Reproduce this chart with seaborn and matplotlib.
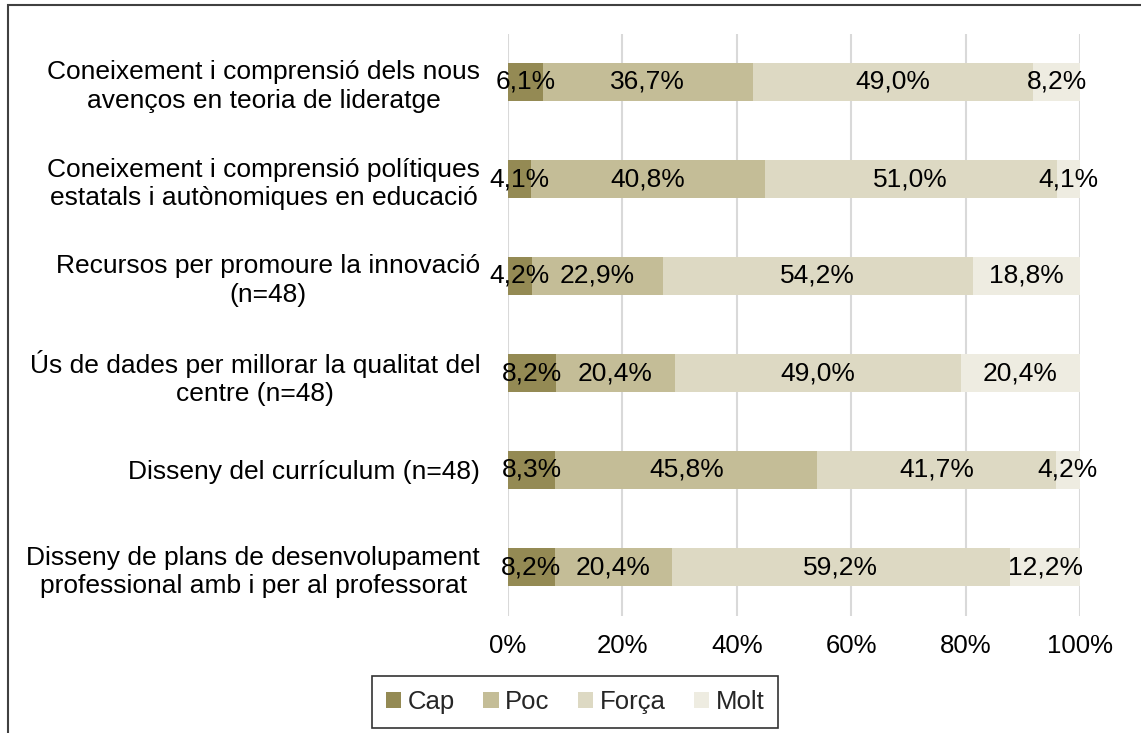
import matplotlib
matplotlib.use("Agg")
import matplotlib.pyplot as plt
import seaborn as sns
import numpy as np
import pandas as pd
from matplotlib.patches import Rectangle, Patch

categories = [
    "Coneixement i comprensió dels nous\navenços en teoria de lideratge",
    "Coneixement i comprensió polítiques\nestatals i autònomiques en educació",
    "Recursos per promoure la innovació\n(n=48)",
    "Ús de dades per millorar la qualitat del\ncentre (n=48)",
    "Disseny del currículum (n=48)",
    "Disseny de plans de desenvolupament\nprofessional amb i per al professorat",
]
series = ["Cap", "Poc", "Força", "Molt"]
cap = [6.1, 4.1, 4.2, 8.2, 8.3, 8.2]
poc = [36.7, 40.8, 22.9, 20.4, 45.8, 20.4]
forca = [49.0, 51.0, 54.2, 49.0, 41.7, 59.2]
molt = [8.2, 4.1, 18.8, 20.4, 4.2, 12.2]
colors = ["#948A54", "#C4BD97", "#DDD9C3", "#EEECE1"]
xticks = [0, 20, 40, 60, 80, 100]
xticklabels = ["0%", "20%", "40%", "60%", "80%", "100%"]

sns.set_theme(style="white")
plt.rcParams["font.family"] = ["Liberation Sans", "DejaVu Sans"]

FS = 19

vals = np.array([cap, poc, forca, molt])
totals = vals.sum(axis=0)
shares = vals / totals * 100  # 100% stacked
cum = np.cumsum(shares, axis=0)

fig = plt.figure(figsize=(11.41, 7.33), dpi=100)
ax = fig.add_axes([508 / 1141, 1 - 615.5 / 733, (1080 - 508) / 1141, (615.5 - 33.5) / 733])

for k in range(3, -1, -1):
    df = pd.DataFrame({"cat": categories, "val": cum[k]})
    sns.barplot(data=df, x="val", y="cat", orient="h", color=colors[k],
                width=0.4, saturation=1, ax=ax, linewidth=0, zorder=3)

for k in range(4):
    starts = cum[k] - shares[k]
    for i in range(len(categories)):
        ax.text(starts[i] + shares[k][i] / 2, i, f"{vals[k][i]:.1f}%".replace(".", ","),
                ha="center", va="center", fontsize=FS, color="#000000", zorder=5)

ax.set_xlim(0, 100)
ax.set_ylim(5.5, -0.5)
ax.set_xticks(xticks)
ax.set_xticklabels(xticklabels, fontsize=FS - 0.5)
ax.set_yticks(range(len(categories)))
ax.set_yticklabels(categories, fontsize=FS)
for t in ax.get_yticklabels():
    t.set_multialignment("center")
    t.set_linespacing(1.25)
    t.set_y(t.get_position()[1])
ax.set_xlabel("")
ax.set_ylabel("")
ax.tick_params(axis="x", length=0, pad=13, colors="#000000")
ax.tick_params(axis="y", length=0, pad=20, colors="#000000")
ax.xaxis.grid(True, color="#D9D9D9", linewidth=1.5, zorder=0)
ax.yaxis.grid(False)
ax.set_axisbelow(True)
for s in ax.spines.values():
    s.set_visible(False)

handles = [Patch(facecolor=c, edgecolor="none", label=s) for s, c in zip(series, colors)]
leg = fig.legend(handles=handles, loc="center", bbox_to_anchor=(575 / 1141, 1 - 702 / 733),
                 ncol=4, frameon=True, fontsize=FS - 0.5, handlelength=0.6, handleheight=0.6,
                 handletextpad=0.25, columnspacing=1.1, fancybox=False, borderpad=0.55)
leg.get_frame().set_edgecolor("#000000")
leg.get_frame().set_linewidth(1.2)

fig.add_artist(Rectangle((8 / 1141, -0.1), 1.2, 1 - 5 / 733 + 0.1, transform=fig.transFigure,
                         fill=False, edgecolor="#404040", linewidth=1.5, clip_on=False))

fig.savefig("out.png", dpi=100)
